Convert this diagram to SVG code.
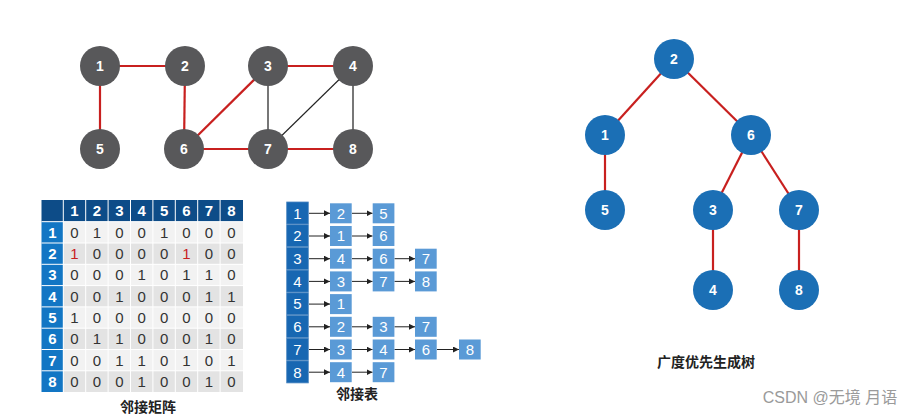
<svg xmlns="http://www.w3.org/2000/svg" width="922" height="415" viewBox="0 0 922 415">
<style>
text{font-family:"Liberation Sans","Noto Sans CJK SC",sans-serif}
.gn{fill:#58585a}
.gt{fill:#fff;font-size:14px;font-weight:bold;text-anchor:middle}
.tn{fill:#1b6fb5}
.red{stroke:#c8201f;stroke-width:2.2;fill:none}
.gray{stroke:#555;stroke-width:1.6;fill:none}
.blk{stroke:#222;stroke-width:1.1;fill:none}
.mh{fill:#0d4c88}
.mc{fill:#1276c4}
.ml{fill:#f2f2f2}
.md{fill:#e3e3e3}
.hw{fill:#fff;font-size:15px;font-weight:bold;text-anchor:middle}
.mv{fill:#333;font-size:15px;text-anchor:middle}
.mr{fill:#c8201f;font-size:15px;text-anchor:middle}
.lh{fill:#1767b2;stroke:#4b86c0;stroke-width:0.8}
.lb{fill:#5a9ad6}
.lt{fill:#fff;font-size:15px;text-anchor:middle}
.ar{stroke:#222;stroke-width:1;fill:none;marker-end:url(#ah)}
.cap{fill:#222;font-size:14px;font-weight:bold;text-anchor:middle}
</style>
<defs>
<marker id="ah" viewBox="0 0 6 6" refX="6" refY="3" markerWidth="6" markerHeight="6" markerUnits="userSpaceOnUse" orient="auto"><path d="M0,0 L6,3 L0,6 z" fill="#222"/></marker>
</defs>
<rect width="922" height="415" fill="#fff"/>

<!-- graph connectors -->
<g id="graph-edges">
<line class="red" x1="100" y1="66" x2="185" y2="66"/>
<line class="red" x1="100" y1="66" x2="100" y2="149"/>
<line class="red" x1="185" y1="66" x2="184" y2="149"/>
<line class="red" x1="268" y1="66" x2="184" y2="149"/>
<line class="red" x1="268" y1="66" x2="353" y2="66"/>
<line class="red" x1="184" y1="149" x2="268" y2="149"/>
<line class="red" x1="268" y1="149" x2="353" y2="149"/>
<line class="gray" x1="268" y1="66" x2="268" y2="149"/>
<line class="gray" x1="353" y1="66" x2="353" y2="149"/>
<line class="blk" x1="353" y1="66" x2="268" y2="149"/>
</g>
<g id="g1"><circle class="gn" cx="100" cy="66" r="20"/><text class="gt" x="100" y="71">1</text></g>
<g id="g2"><circle class="gn" cx="185" cy="66" r="20"/><text class="gt" x="185" y="71">2</text></g>
<g id="g3"><circle class="gn" cx="268" cy="66" r="20"/><text class="gt" x="268" y="71">3</text></g>
<g id="g4"><circle class="gn" cx="353" cy="66" r="20"/><text class="gt" x="353" y="71">4</text></g>
<g id="g5"><circle class="gn" cx="100" cy="149" r="20"/><text class="gt" x="100" y="154">5</text></g>
<g id="g6"><circle class="gn" cx="184" cy="149" r="20"/><text class="gt" x="184" y="154">6</text></g>
<g id="g7"><circle class="gn" cx="268" cy="149" r="20"/><text class="gt" x="268" y="154">7</text></g>
<g id="g8"><circle class="gn" cx="353" cy="149" r="20"/><text class="gt" x="353" y="154">8</text></g>

<!-- tree -->
<g id="tree-edges">
<line class="red" x1="674" y1="59" x2="605" y2="135"/>
<line class="red" x1="674" y1="59" x2="751" y2="135"/>
<line class="red" x1="605" y1="135" x2="605" y2="210"/>
<line class="red" x1="751" y1="135" x2="713" y2="210"/>
<line class="red" x1="751" y1="135" x2="799" y2="210"/>
<line class="red" x1="713" y1="210" x2="713" y2="290"/>
<line class="red" x1="799" y1="210" x2="799" y2="290"/>
</g>
<g id="t2"><circle class="tn" cx="674" cy="59" r="20"/><text class="gt" x="674" y="64">2</text></g>
<g id="t1"><circle class="tn" cx="605" cy="135" r="20"/><text class="gt" x="605" y="140">1</text></g>
<g id="t6"><circle class="tn" cx="751" cy="135" r="20"/><text class="gt" x="751" y="140">6</text></g>
<g id="t5"><circle class="tn" cx="605" cy="210" r="20"/><text class="gt" x="605" y="215">5</text></g>
<g id="t3"><circle class="tn" cx="713" cy="210" r="20"/><text class="gt" x="713" y="215">3</text></g>
<g id="t7"><circle class="tn" cx="799" cy="210" r="20"/><text class="gt" x="799" y="215">7</text></g>
<g id="t4"><circle class="tn" cx="713" cy="290" r="20"/><text class="gt" x="713" y="295">4</text></g>
<g id="t8"><circle class="tn" cx="799" cy="290" r="20"/><text class="gt" x="799" y="295">8</text></g>
<text class="cap" x="706" y="367">广度优先生成树</text>

<!-- adjacency matrix -->
<g id="matrix">
<rect class="mh" x="41.5" y="200" width="201.5" height="21.7"/>
<rect class="mc" x="41.5" y="221.7" width="21.8" height="170.3"/>
<rect class="ml" x="63.3" y="221.7" width="179.7" height="21.3"/>
<rect class="md" x="63.3" y="243" width="179.7" height="21.3"/>
<rect class="ml" x="63.3" y="264.3" width="179.7" height="21.3"/>
<rect class="md" x="63.3" y="285.6" width="179.7" height="21.3"/>
<rect class="ml" x="63.3" y="306.9" width="179.7" height="21.3"/>
<rect class="md" x="63.3" y="328.2" width="179.7" height="21.3"/>
<rect class="ml" x="63.3" y="349.5" width="179.7" height="21.3"/>
<rect class="md" x="63.3" y="370.8" width="179.7" height="21.2"/>
<g stroke="#fff" stroke-width="1">
<line x1="63.3" y1="200" x2="63.3" y2="392"/>
<line x1="85.7" y1="200" x2="85.7" y2="392"/>
<line x1="108.1" y1="200" x2="108.1" y2="392"/>
<line x1="130.5" y1="200" x2="130.5" y2="392"/>
<line x1="152.9" y1="200" x2="152.9" y2="392"/>
<line x1="175.3" y1="200" x2="175.3" y2="392"/>
<line x1="197.7" y1="200" x2="197.7" y2="392"/>
<line x1="220.1" y1="200" x2="220.1" y2="392"/>
<line x1="41.5" y1="221.7" x2="243" y2="221.7"/>
<line x1="41.5" y1="243" x2="243" y2="243"/>
<line x1="41.5" y1="264.3" x2="243" y2="264.3"/>
<line x1="41.5" y1="285.6" x2="243" y2="285.6"/>
<line x1="41.5" y1="306.9" x2="243" y2="306.9"/>
<line x1="41.5" y1="328.2" x2="243" y2="328.2"/>
<line x1="41.5" y1="349.5" x2="243" y2="349.5"/>
<line x1="41.5" y1="370.8" x2="243" y2="370.8"/>
</g>
<text class="hw" x="74.5" y="216">1</text><text class="hw" x="96.9" y="216">2</text><text class="hw" x="119.3" y="216">3</text><text class="hw" x="141.7" y="216">4</text><text class="hw" x="164.1" y="216">5</text><text class="hw" x="186.5" y="216">6</text><text class="hw" x="208.9" y="216">7</text><text class="hw" x="231.3" y="216">8</text>
<text class="hw" x="52.4" y="237.7">1</text><text class="hw" x="52.4" y="259">2</text><text class="hw" x="52.4" y="280.3">3</text><text class="hw" x="52.4" y="301.6">4</text><text class="hw" x="52.4" y="322.9">5</text><text class="hw" x="52.4" y="344.2">6</text><text class="hw" x="52.4" y="365.5">7</text><text class="hw" x="52.4" y="386.8">8</text>
<text class="mv" x="74.5" y="237.7">0</text><text class="mv" x="96.9" y="237.7">1</text><text class="mv" x="119.3" y="237.7">0</text><text class="mv" x="141.7" y="237.7">0</text><text class="mv" x="164.1" y="237.7">1</text><text class="mv" x="186.5" y="237.7">0</text><text class="mv" x="208.9" y="237.7">0</text><text class="mv" x="231.3" y="237.7">0</text>
<text class="mr" x="74.5" y="259">1</text><text class="mv" x="96.9" y="259">0</text><text class="mv" x="119.3" y="259">0</text><text class="mv" x="141.7" y="259">0</text><text class="mv" x="164.1" y="259">0</text><text class="mr" x="186.5" y="259">1</text><text class="mv" x="208.9" y="259">0</text><text class="mv" x="231.3" y="259">0</text>
<text class="mv" x="74.5" y="280.3">0</text><text class="mv" x="96.9" y="280.3">0</text><text class="mv" x="119.3" y="280.3">0</text><text class="mv" x="141.7" y="280.3">1</text><text class="mv" x="164.1" y="280.3">0</text><text class="mv" x="186.5" y="280.3">1</text><text class="mv" x="208.9" y="280.3">1</text><text class="mv" x="231.3" y="280.3">0</text>
<text class="mv" x="74.5" y="301.6">0</text><text class="mv" x="96.9" y="301.6">0</text><text class="mv" x="119.3" y="301.6">1</text><text class="mv" x="141.7" y="301.6">0</text><text class="mv" x="164.1" y="301.6">0</text><text class="mv" x="186.5" y="301.6">0</text><text class="mv" x="208.9" y="301.6">1</text><text class="mv" x="231.3" y="301.6">1</text>
<text class="mv" x="74.5" y="322.9">1</text><text class="mv" x="96.9" y="322.9">0</text><text class="mv" x="119.3" y="322.9">0</text><text class="mv" x="141.7" y="322.9">0</text><text class="mv" x="164.1" y="322.9">0</text><text class="mv" x="186.5" y="322.9">0</text><text class="mv" x="208.9" y="322.9">0</text><text class="mv" x="231.3" y="322.9">0</text>
<text class="mv" x="74.5" y="344.2">0</text><text class="mv" x="96.9" y="344.2">1</text><text class="mv" x="119.3" y="344.2">1</text><text class="mv" x="141.7" y="344.2">0</text><text class="mv" x="164.1" y="344.2">0</text><text class="mv" x="186.5" y="344.2">0</text><text class="mv" x="208.9" y="344.2">1</text><text class="mv" x="231.3" y="344.2">0</text>
<text class="mv" x="74.5" y="365.5">0</text><text class="mv" x="96.9" y="365.5">0</text><text class="mv" x="119.3" y="365.5">1</text><text class="mv" x="141.7" y="365.5">1</text><text class="mv" x="164.1" y="365.5">0</text><text class="mv" x="186.5" y="365.5">1</text><text class="mv" x="208.9" y="365.5">0</text><text class="mv" x="231.3" y="365.5">1</text>
<text class="mv" x="74.5" y="386.8">0</text><text class="mv" x="96.9" y="386.8">0</text><text class="mv" x="119.3" y="386.8">0</text><text class="mv" x="141.7" y="386.8">1</text><text class="mv" x="164.1" y="386.8">0</text><text class="mv" x="186.5" y="386.8">0</text><text class="mv" x="208.9" y="386.8">1</text><text class="mv" x="231.3" y="386.8">0</text>
</g>
<text class="cap" x="148" y="412">邻接矩阵</text>

<!-- adjacency list -->
<g id="list-arrows">
<line class="ar" x1="309" y1="213.3" x2="330" y2="213.3"/><line class="ar" x1="352" y1="213.3" x2="372.5" y2="213.3"/>
<line class="ar" x1="309" y1="236" x2="330" y2="236"/><line class="ar" x1="352" y1="236" x2="372.5" y2="236"/>
<line class="ar" x1="309" y1="258.7" x2="330" y2="258.7"/><line class="ar" x1="352" y1="258.7" x2="372.5" y2="258.7"/><line class="ar" x1="394.5" y1="258.7" x2="415" y2="258.7"/>
<line class="ar" x1="309" y1="281.4" x2="330" y2="281.4"/><line class="ar" x1="352" y1="281.4" x2="372.5" y2="281.4"/><line class="ar" x1="394.5" y1="281.4" x2="415" y2="281.4"/>
<line class="ar" x1="309" y1="304.1" x2="330" y2="304.1"/>
<line class="ar" x1="309" y1="326.8" x2="330" y2="326.8"/><line class="ar" x1="352" y1="326.8" x2="372.5" y2="326.8"/><line class="ar" x1="394.5" y1="326.8" x2="415" y2="326.8"/>
<line class="ar" x1="309" y1="349.5" x2="330" y2="349.5"/><line class="ar" x1="352" y1="349.5" x2="372.5" y2="349.5"/><line class="ar" x1="394.5" y1="349.5" x2="415" y2="349.5"/><line class="ar" x1="437" y1="349.5" x2="459" y2="349.5"/>
<line class="ar" x1="309" y1="372.2" x2="330" y2="372.2"/><line class="ar" x1="352" y1="372.2" x2="372.5" y2="372.2"/>
</g>
<g id="list-head">
<rect class="lh" x="286.7" y="202" width="21.6" height="22"/><text class="lt" x="297.5" y="218.6">1</text>
<rect class="lh" x="286.7" y="224.7" width="21.6" height="22"/><text class="lt" x="297.5" y="241.3">2</text>
<rect class="lh" x="286.7" y="247.4" width="21.6" height="22"/><text class="lt" x="297.5" y="264">3</text>
<rect class="lh" x="286.7" y="270.1" width="21.6" height="22"/><text class="lt" x="297.5" y="286.7">4</text>
<rect class="lh" x="286.7" y="292.8" width="21.6" height="22"/><text class="lt" x="297.5" y="309.4">5</text>
<rect class="lh" x="286.7" y="315.5" width="21.6" height="22"/><text class="lt" x="297.5" y="332.1">6</text>
<rect class="lh" x="286.7" y="338.2" width="21.6" height="22"/><text class="lt" x="297.5" y="354.8">7</text>
<rect class="lh" x="286.7" y="360.9" width="21.6" height="22"/><text class="lt" x="297.5" y="377.5">8</text>
</g>
<g id="list-nodes">
<rect class="lb" x="330" y="203.3" width="21.7" height="20"/><text class="lt" x="340.9" y="218.6">2</text>
<rect class="lb" x="372.7" y="203.3" width="21.7" height="20"/><text class="lt" x="383.5" y="218.6">5</text>
<rect class="lb" x="330" y="226" width="21.7" height="20"/><text class="lt" x="340.9" y="241.3">1</text>
<rect class="lb" x="372.7" y="226" width="21.7" height="20"/><text class="lt" x="383.5" y="241.3">6</text>
<rect class="lb" x="330" y="248.7" width="21.7" height="20"/><text class="lt" x="340.9" y="264">4</text>
<rect class="lb" x="372.7" y="248.7" width="21.7" height="20"/><text class="lt" x="383.5" y="264">6</text>
<rect class="lb" x="415" y="248.7" width="21.7" height="20"/><text class="lt" x="425.9" y="264">7</text>
<rect class="lb" x="330" y="271.4" width="21.7" height="20"/><text class="lt" x="340.9" y="286.7">3</text>
<rect class="lb" x="372.7" y="271.4" width="21.7" height="20"/><text class="lt" x="383.5" y="286.7">7</text>
<rect class="lb" x="415" y="271.4" width="21.7" height="20"/><text class="lt" x="425.9" y="286.7">8</text>
<rect class="lb" x="330" y="294.1" width="21.7" height="20"/><text class="lt" x="340.9" y="309.4">1</text>
<rect class="lb" x="330" y="316.8" width="21.7" height="20"/><text class="lt" x="340.9" y="332.1">2</text>
<rect class="lb" x="372.7" y="316.8" width="21.7" height="20"/><text class="lt" x="383.5" y="332.1">3</text>
<rect class="lb" x="415" y="316.8" width="21.7" height="20"/><text class="lt" x="425.9" y="332.1">7</text>
<rect class="lb" x="330" y="339.5" width="21.7" height="20"/><text class="lt" x="340.9" y="354.8">3</text>
<rect class="lb" x="372.7" y="339.5" width="21.7" height="20"/><text class="lt" x="383.5" y="354.8">4</text>
<rect class="lb" x="415" y="339.5" width="21.7" height="20"/><text class="lt" x="425.9" y="354.8">6</text>
<rect class="lb" x="459" y="339.5" width="21.7" height="20"/><text class="lt" x="469.9" y="354.8">8</text>
<rect class="lb" x="330" y="362.2" width="21.7" height="20"/><text class="lt" x="340.9" y="377.5">4</text>
<rect class="lb" x="372.7" y="362.2" width="21.7" height="20"/><text class="lt" x="383.5" y="377.5">7</text>
</g>
<text class="cap" x="357" y="399">邻接表</text>

<text x="830" y="403" fill="#9a9a9a" font-size="16" text-anchor="middle">CSDN @无境 月语</text>
</svg>
